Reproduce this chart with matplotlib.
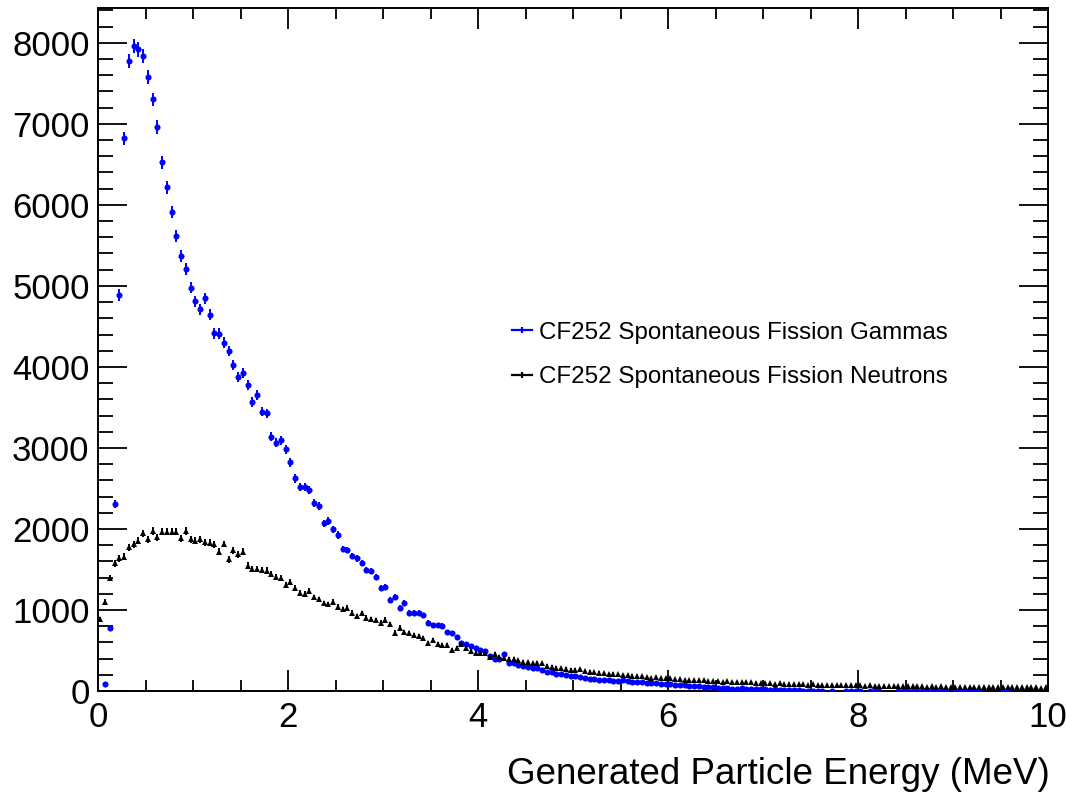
import numpy as np
import matplotlib
matplotlib.use("Agg")
import matplotlib.pyplot as plt
from matplotlib.lines import Line2D
from matplotlib.ticker import MultipleLocator

# ---------------- data ----------------
bin_width = 0.05
n_bins = 200
energy_min = 0.0

gamma_counts = [
    0, 82, 781, 2307, 4887, 6820, 7778, 7959, 7920, 7836,
    7573, 7301, 6964, 6525, 6216, 5915, 5615, 5365, 5205, 4980,
    4808, 4710, 4846, 4645, 4415, 4410, 4300, 4199, 4023, 3875,
    3920, 3776, 3570, 3652, 3447, 3427, 3139, 3064, 3097, 2982,
    2822, 2624, 2521, 2521, 2480, 2324, 2280, 2069, 2100, 1995,
    1925, 1752, 1740, 1666, 1637, 1583, 1493, 1485, 1411, 1267,
    1287, 1123, 1164, 1028, 1090, 966, 966, 966, 938, 843,
    814, 814, 807, 732, 716, 670, 588, 576, 559, 527,
    506, 497, 436, 395, 400, 455, 350, 340, 325, 310,
    300, 290, 280, 262, 240, 232, 215, 205, 198, 190,
    186, 176, 160, 145, 152, 140, 133, 140, 128, 122,
    130, 118, 110, 115, 108, 100, 95, 102, 90, 84,
    88, 80, 72, 70, 62, 66, 58, 52, 55, 45,
    40, 34, 38, 30, 28, 32, 25, 22, 26, 20,
    20, 18, 22, 16, 15, 18, 12, 10, 6, 5,
    4, 5, 3, 0, 2, 0, 0, 4, 3, 5,
    3, 0, 4, 3, 2, 0, 0, 0, 3, 4,
    2, 3, 2, 4, 2, 3, 2, 3, 2, 0,
    2, 3, 2, 3, 2, 1, 0, 0, 0, 0,
    2, 1, 0, 0, 0, 0, 0, 0, 0, 0,
]

neutron_counts = [
    888, 1102, 1398, 1576, 1637, 1657, 1773, 1810, 1855, 1946,
    1872, 1974, 1896, 1966, 1966, 1966, 1966, 1884, 1974, 1872,
    1855, 1872, 1838, 1830, 1810, 1719, 1814, 1625, 1736, 1687,
    1719, 1547, 1506, 1506, 1494, 1486, 1444, 1403, 1398, 1308,
    1349, 1267, 1213, 1197, 1238, 1156, 1131, 1082, 1070, 1102,
    1040, 1008, 1028, 966, 925, 958, 905, 884, 876, 843,
    880, 823, 720, 781, 732, 711, 691, 679, 650, 596,
    629, 576, 568, 568, 506, 535, 576, 527, 494, 473,
    473, 473, 423, 457, 420, 410, 400, 395, 380, 360,
    355, 345, 350, 340, 310, 300, 290, 285, 275, 265,
    262, 270, 245, 240, 236, 228, 220, 212, 215, 205,
    200, 198, 190, 185, 182, 170, 165, 168, 158, 155,
    160, 148, 142, 140, 138, 135, 130, 132, 125, 122,
    120, 115, 118, 112, 110, 108, 105, 107, 100, 98,
    102, 95, 92, 96, 90, 88, 85, 90, 82, 80,
    84, 78, 76, 80, 74, 72, 75, 70, 72, 68,
    80, 66, 68, 64, 66, 62, 64, 60, 62, 60,
    58, 60, 56, 58, 55, 57, 54, 56, 53, 55,
    52, 54, 51, 53, 50, 52, 49, 51, 48, 50,
    47, 49, 46, 48, 45, 47, 44, 46, 43, 45,
]

series_labels = ["CF252 Spontaneous Fission Gammas",
                 "CF252 Spontaneous Fission Neutrons"]
x_label = "Generated Particle Energy (MeV)"

# ---------------- figure ----------------
W, H = 1066, 797
fig = plt.figure(figsize=(W / 100, H / 100), dpi=100)
ax = fig.add_axes([98 / W, 1 - 691 / H, (1048 - 98) / W, (691 - 8) / H])

centers = energy_min + bin_width * (np.arange(n_bins) + 0.5)
font = "Liberation Sans"

def draw(counts, color, marker, ms):
    y = np.asarray(counts, dtype=float)
    m = y > 0
    ax.errorbar(centers[m], y[m], yerr=np.sqrt(y[m]), fmt=marker, color=color,
                ms=ms, mew=0, elinewidth=1.4, capsize=0, zorder=3)

draw(gamma_counts, "#0000ff", "o", 4.4)
draw(neutron_counts, "black", "^", 4.8)

ax.set_xlim(0, 10)
ax.xaxis.set_major_locator(MultipleLocator(2))
ax.xaxis.set_minor_locator(MultipleLocator(0.5))
ax.yaxis.set_major_locator(MultipleLocator(1000))
ax.yaxis.set_minor_locator(MultipleLocator(200))

ax.tick_params(axis="x", which="major", direction="in", length=15, width=1.3,
               top=True, bottom=True, pad=7)
ax.tick_params(axis="x", which="minor", direction="in", length=8, width=1.3,
               top=True, bottom=True)
ax.tick_params(axis="y", which="major", direction="in", length=21, width=1.3,
               left=True, right=True, pad=6)
ax.tick_params(axis="y", which="minor", direction="in", length=10.5, width=1.3,
               left=True, right=True)
ax.set_xticks(np.arange(0, 11, 2))
ax.set_xticklabels([str(v) for v in range(0, 11, 2)], fontfamily=font, fontsize=25)
ax.set_yticks(np.arange(0, 9000, 1000))
ax.set_yticklabels([str(v) for v in range(0, 9000, 1000)], fontfamily=font, fontsize=25)
ax.set_ylim(0, 8430)

for sp in ax.spines.values():
    sp.set_linewidth(1.4)

fig.text(1050 / W, 1 - 775 / H, x_label, ha="right", va="center",
         fontfamily=font, fontsize=26.5)

handles = [Line2D([], [], color="#0000ff", lw=1.6, marker="|", ms=5, mew=1.6),
           Line2D([], [], color="black", lw=1.6, marker="|", ms=5, mew=1.6)]
fig.legend(handles, series_labels, loc="center left",
           bbox_to_anchor=(512 / W, 1 - 355 / H), frameon=False,
           borderpad=0, borderaxespad=0, handlelength=0.83, handletextpad=0.28,
           labelspacing=0.92, prop={"family": font, "size": 17.4})

fig.savefig("out.png", dpi=100)
